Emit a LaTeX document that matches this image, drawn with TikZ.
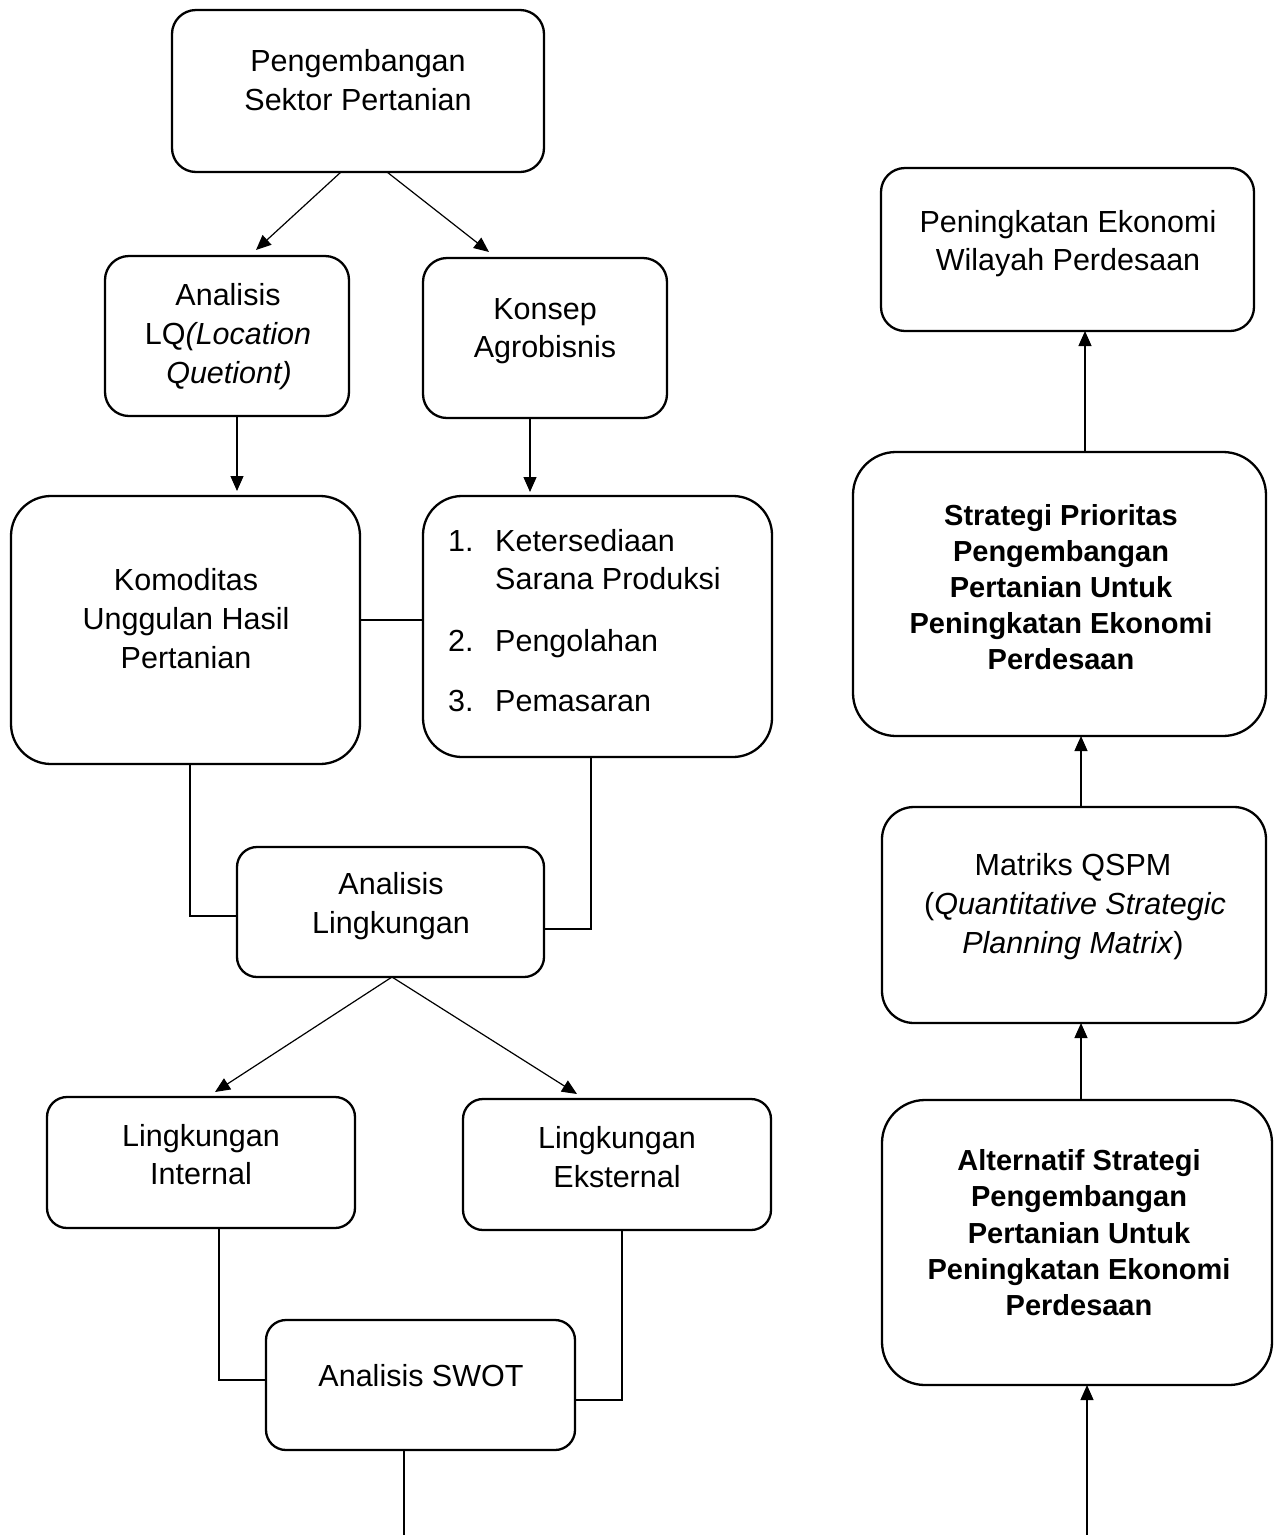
\documentclass[tikz,border=0pt]{standalone}
\usepackage{fontspec}
\setmainfont{Liberation Sans}
\usetikzlibrary{arrows.meta}
\newcommand\fsr{\fontsize{30.5}{39}\selectfont}
\newcommand\fsb{\fontsize{29}{36}\selectfont\bfseries}
\begin{document}
\begin{tikzpicture}[x=1pt,y=-1pt,
  box/.style={draw, line width=2.3pt, rounded corners=#1, inner sep=0pt, outer sep=0pt},
  txt/.style={anchor=base, inner sep=0pt, font=\fsr},
  btxt/.style={anchor=base, inner sep=0pt, font=\fsb},
  ltxt/.style={anchor=base west, inner sep=0pt, font=\fsr},
  conn/.style={line width=1.2pt},
  arr/.style={line width=1.2pt, -{Triangle[length=15pt,width=13pt]}}]
\fill[white] (0,0) rectangle (1274,1535);
\useasboundingbox (0,0) rectangle (1274,1535);

% boxes
\node[box=24pt, minimum width=372pt, minimum height=162pt] (A) at (358,91) {};
\node[box=24pt, minimum width=244pt, minimum height=160pt] (B) at (227,336) {};
\node[box=24pt, minimum width=244pt, minimum height=160pt] (C) at (545,338) {};
\node[box=40pt, minimum width=349pt, minimum height=268pt] (D) at (185.5,630) {};
\node[box=39pt, minimum width=349pt, minimum height=261pt] (E) at (597.5,626.5) {};
\node[box=20pt, minimum width=307pt, minimum height=130pt] (F) at (390.5,912) {};
\node[box=20pt, minimum width=308pt, minimum height=131pt] (G) at (201,1162.5) {};
\node[box=20pt, minimum width=308pt, minimum height=131pt] (H) at (617,1164.5) {};
\node[box=20pt, minimum width=309pt, minimum height=130pt] (I) at (420.5,1385) {};
\node[box=24pt, minimum width=373pt, minimum height=163pt] (J) at (1067.5,249.5) {};
\node[box=43pt, minimum width=413pt, minimum height=284pt] (K) at (1059.5,594) {};
\node[box=32pt, minimum width=384pt, minimum height=216pt] (L) at (1074,915) {};
\node[box=43pt, minimum width=390pt, minimum height=285pt] (M) at (1077,1242.5) {};

% texts
\node[txt] (a1) at (358,71) {Pengembangan};
\node[txt] (a2) at (358,110) {Sektor Pertanian};

\node[txt] (b1) at (228,305) {Analisis};
\node[txt] (b2) at (228,344) {LQ\textit{(Location}};
\node[txt] (b3) at (229,383) {\textit{Quetiont)}};

\node[txt] (c1) at (545,319) {Konsep};
\node[txt] (c2) at (545,357) {Agrobisnis};

\node[txt] (d1) at (186,590) {Komoditas};
\node[txt] (d2) at (186,629) {Unggulan Hasil};
\node[txt] (d3) at (186,668) {Pertanian};

\node[ltxt] (e1n) at (448,551) {1.};
\node[ltxt] (e1) at (495,551) {Ketersediaan};
\node[ltxt] (e1b) at (495,589) {Sarana Produksi};
\node[ltxt] (e2n) at (448,651) {2.};
\node[ltxt] (e2) at (495,651) {Pengolahan};
\node[ltxt] (e3n) at (448,711) {3.};
\node[ltxt] (e3) at (495,711) {Pemasaran};

\node[txt] (f1) at (391,894) {Analisis};
\node[txt] (f2) at (391,933) {Lingkungan};

\node[txt] (g1) at (201,1146) {Lingkungan};
\node[txt] (g2) at (201,1184) {Internal};

\node[txt] (h1) at (617,1148) {Lingkungan};
\node[txt] (h2) at (617,1187) {Eksternal};

\node[txt] (i1) at (421,1386) {Analisis SWOT};

\node[txt] (j1) at (1068,232) {Peningkatan Ekonomi};
\node[txt] (j2) at (1068,270) {Wilayah Perdesaan};

\node[btxt] (k1) at (1061,525) {Strategi Prioritas};
\node[btxt] (k2) at (1061,561) {Pengembangan};
\node[btxt] (k3) at (1061,597) {Pertanian Untuk};
\node[btxt] (k4) at (1061,633) {Peningkatan Ekonomi};
\node[btxt] (k5) at (1061,669) {Perdesaan};

\node[txt] (l1) at (1073,875) {Matriks QSPM};
\node[txt] (l2) at (1075,914) {(\textit{Quantitative Strategic}};
\node[txt] (l3) at (1073,953) {\textit{Planning Matrix})};

\node[btxt] (m1) at (1079,1170) {Alternatif Strategi};
\node[btxt] (m2) at (1079,1206) {Pengembangan};
\node[btxt] (m3) at (1079,1243) {Pertanian Untuk};
\node[btxt] (m4) at (1079,1279) {Peningkatan Ekonomi};
\node[btxt] (m5) at (1079,1315) {Perdesaan};

% connectors
\draw[arr] ([xshift=-17pt]A.south) -- ([xshift=29pt,yshift=6pt]B.north);
\draw[arr] ([xshift=29pt]A.south) -- ([xshift=-56pt,yshift=6pt]C.north);
\draw[arr] ([xshift=10pt]B.south) -- ([xshift=51.5pt,yshift=5pt]D.north);
\draw[arr] ([xshift=-15pt]C.south) -- ([xshift=-67.5pt,yshift=4pt]E.north);
\draw[conn] ([yshift=10pt]D.east) -- ([yshift=6.5pt]E.west);
\draw[conn] ([xshift=4.5pt]D.south) |- ([yshift=-4pt]F.west);
\draw[conn] ([xshift=-6.5pt]E.south) |- ([yshift=-17pt]F.east);
\draw[arr] ([xshift=1.5pt]F.south) -- ([xshift=14pt,yshift=5pt]G.north);
\draw[arr] ([xshift=1.5pt]F.south) -- ([xshift=-40pt,yshift=5pt]H.north);
\draw[conn] ([xshift=18pt]G.south) |- ([yshift=5pt]I.west);
\draw[conn] ([xshift=5pt]H.south) |- ([yshift=-15pt]I.east);
\coordinate (iend) at (404,1535);
\draw[conn] ([xshift=-16.5pt]I.south) -- (iend);

\draw[arr] ([xshift=25.5pt]K.north) -- ([xshift=17.5pt]J.south);
\draw[arr] ([xshift=7pt]L.north) -- ([xshift=21.5pt]K.south);
\draw[arr] ([xshift=4pt]M.north) -- ([xshift=7pt]L.south);
\coordinate (mstart) at (1087,1535);
\draw[arr] (mstart) -- ([xshift=10pt]M.south);
\end{tikzpicture}
\end{document}
